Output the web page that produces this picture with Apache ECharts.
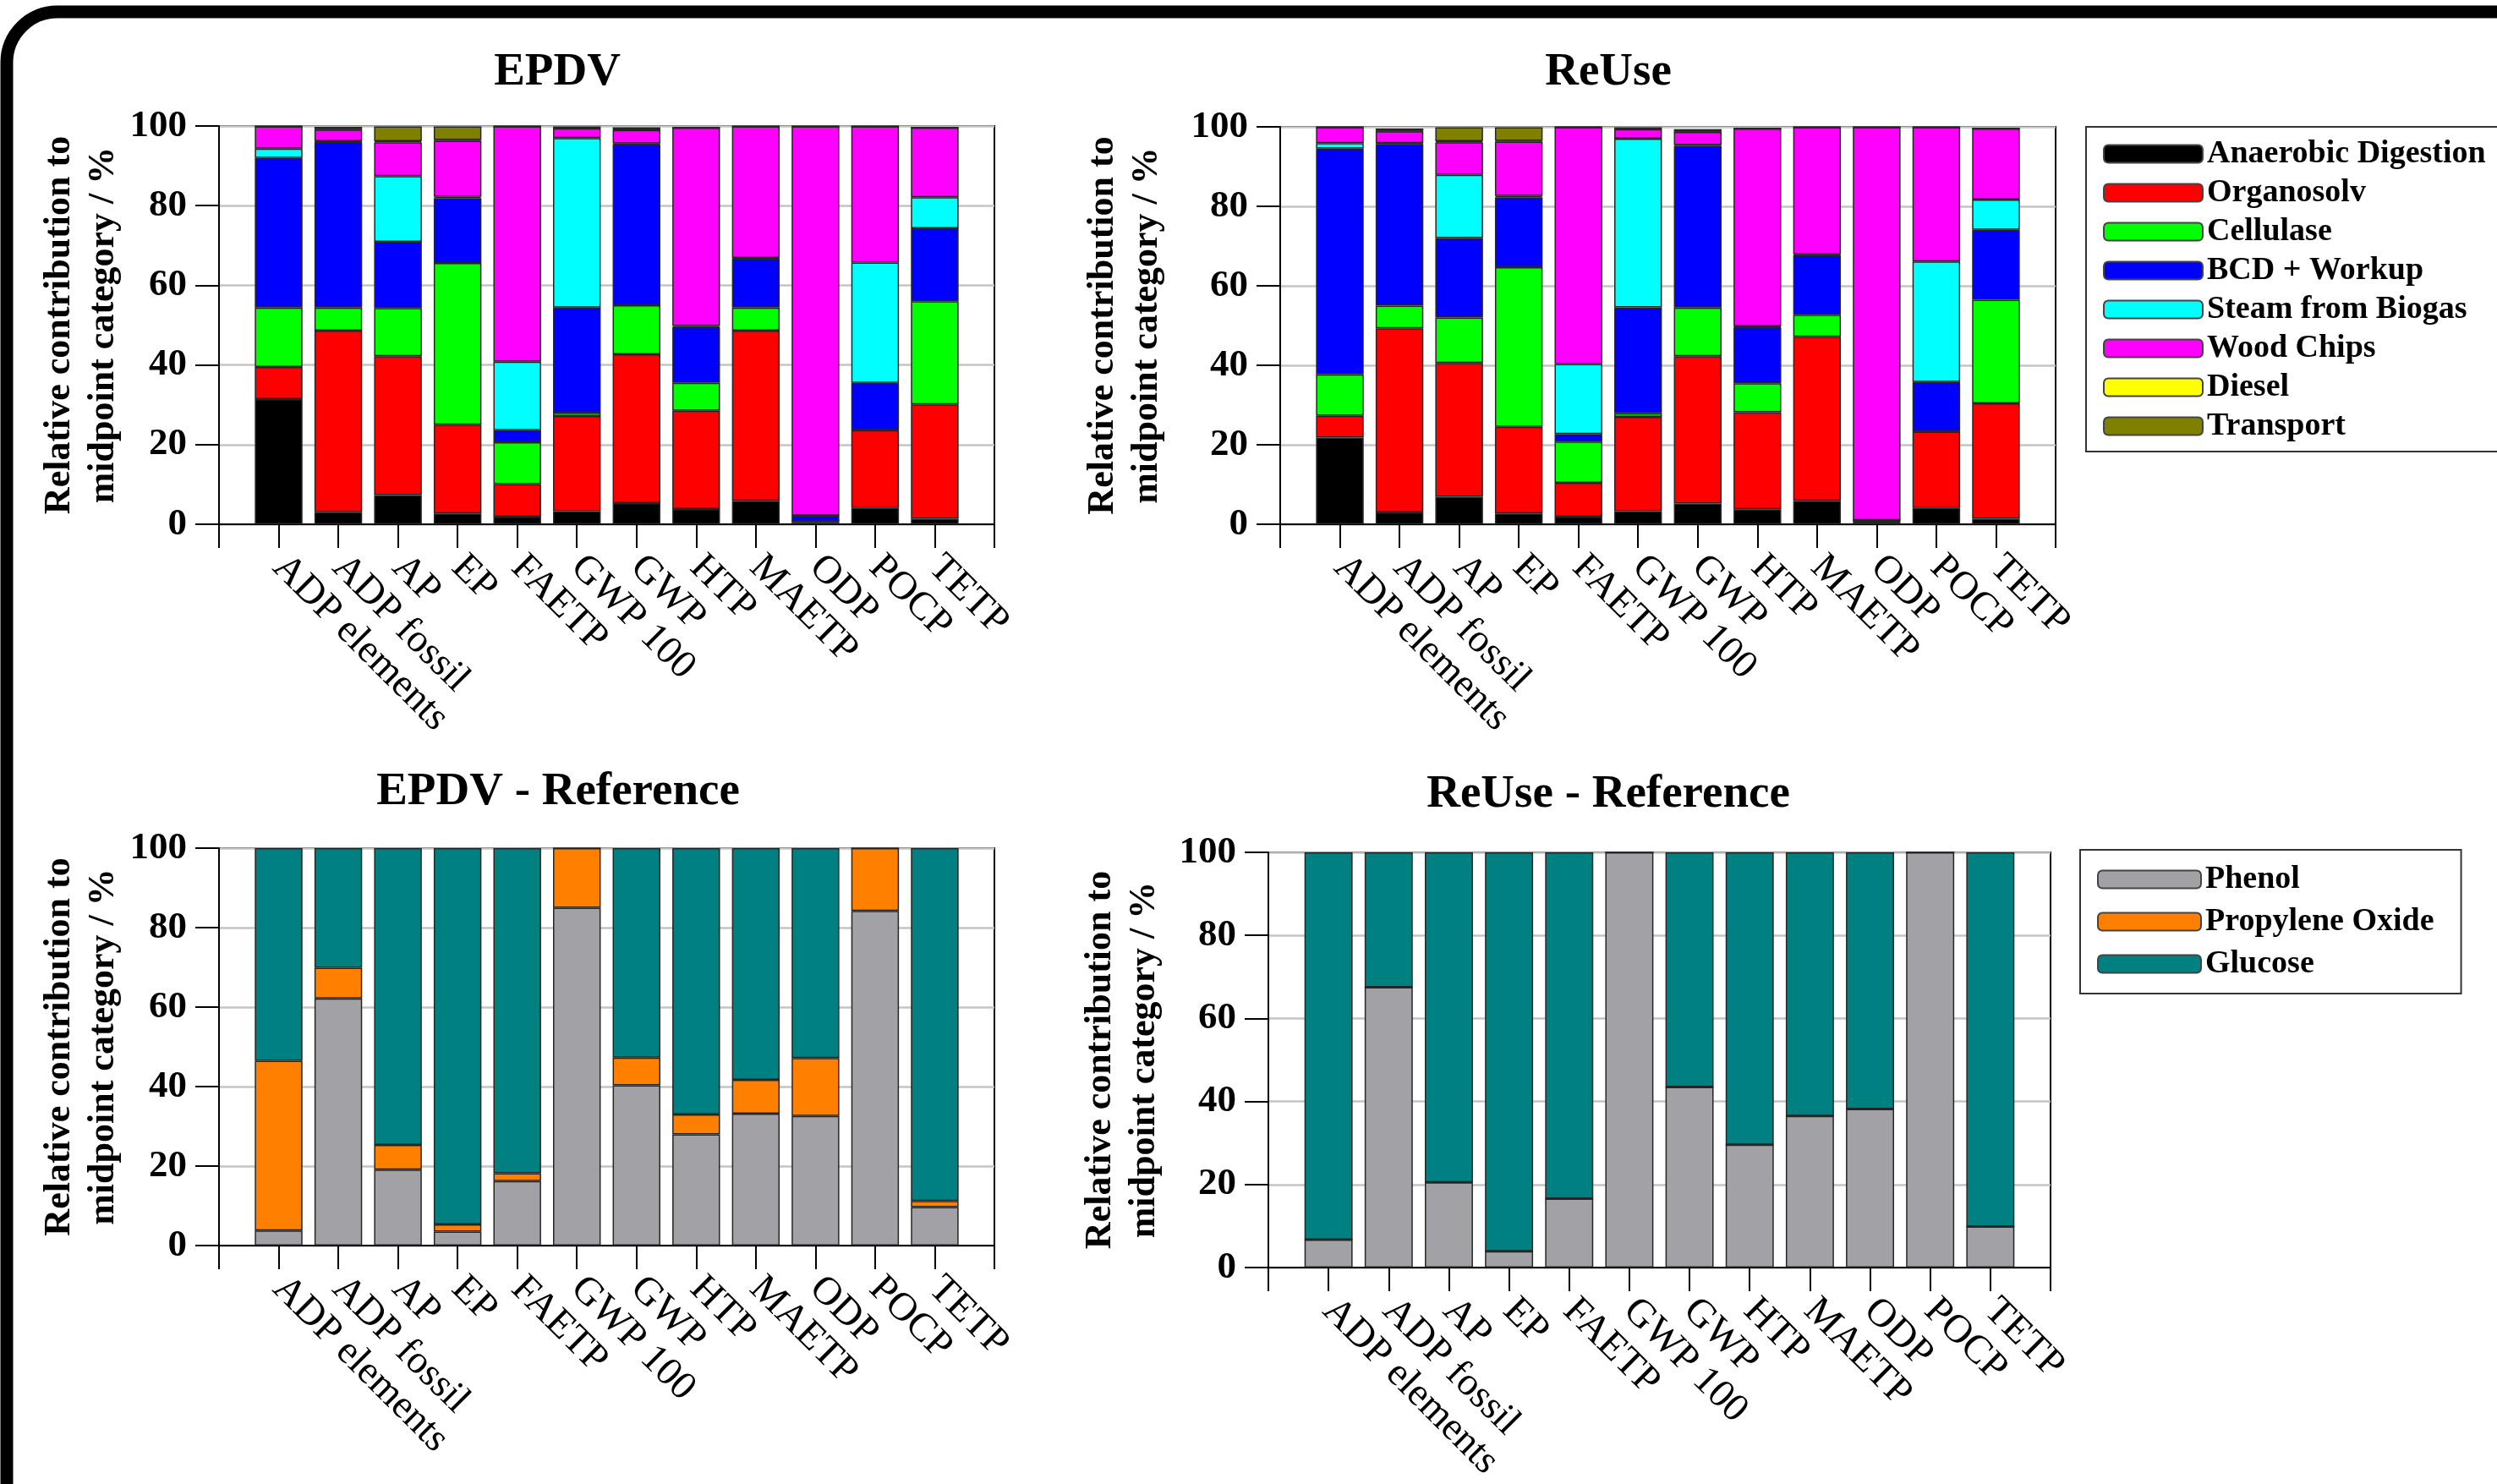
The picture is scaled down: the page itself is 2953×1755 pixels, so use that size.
<!DOCTYPE html>
<html><head><meta charset="utf-8">
<script src="https://cdn.jsdelivr.net/npm/echarts@6/dist/echarts.min.js"></script>
<style>html,body{margin:0;padding:0;background:#fff}#c{width:2953px;height:1755px}</style>
</head><body><div id="c"></div>
<script>
// ---------- data ----------
const categories = ['ADP elements','ADP fossil','AP','EP','FAETP','GWP 100','GWP','HTP','MAETP','ODP','POCP','TETP'];
const yTicks = [0, 20, 40, 60, 80, 100];

const processNames = ['Anaerobic Digestion','Organosolv','Cellulase','BCD + Workup','Steam from Biogas','Wood Chips','Diesel','Transport'];
const processColors = ['#000000','#ff0000','#00ff00','#0000ff','#00ffff','#ff00ff','#ffff00','#808000'];

// EPDV
const epdvAnaerobic = [31.4, 3.0, 7.3, 2.7, 1.9, 3.3, 5.3, 3.8, 5.9, 0.6, 4.1, 1.4];
const epdvOrganosolv = [8.1, 45.6, 34.9, 22.3, 8.2, 23.9, 37.4, 24.7, 42.7, 0.2, 19.5, 28.7];
const epdvCellulase = [14.9, 5.8, 12.1, 40.6, 10.5, 0.8, 12.3, 7.0, 5.8, 0, 0.1, 25.9];
const epdvBCD = [37.6, 41.6, 16.6, 16.3, 3.0, 26.4, 40.4, 14.0, 12.3, 1.3, 11.8, 18.3];
const epdvSteam = [2.3, 0.2, 16.5, 0.3, 17.2, 42.6, 0.2, 0.3, 0.2, 0.1, 30.2, 7.8];
const epdvWood = [5.6, 2.9, 8.5, 14.1, 59.1, 2.4, 3.4, 49.8, 33.0, 97.7, 34.2, 17.5];
const epdvDiesel = [0, 0.1, 0.3, 0.2, 0, 0.1, 0.1, 0, 0, 0, 0, 0];
const epdvTransport = [0.1, 0.6, 3.7, 3.4, 0.1, 0.4, 0.6, 0.1, 0.1, 0.1, 0.1, 0.1];

// ReUse
const reuseAnaerobic = [21.8, 3.0, 6.9, 2.7, 1.9, 3.3, 5.2, 3.8, 5.9, 0.4, 4.1, 1.4];
const reuseOrganosolv = [5.5, 46.3, 33.7, 21.8, 8.5, 23.7, 37.1, 24.4, 41.3, 0.3, 19.2, 29.0];
const reuseCellulase = [10.4, 5.7, 11.4, 40.2, 10.4, 0.9, 12.2, 7.3, 5.5, 0, 0.1, 26.1];
const reuseBCD = [56.8, 40.7, 20.0, 17.6, 1.9, 26.7, 40.7, 14.1, 15.0, 0.3, 12.4, 17.6];
const reuseSteam = [1.4, 0.2, 15.9, 0.3, 17.6, 42.4, 0.2, 0.2, 0.2, 0, 30.3, 7.6];
const reuseWood = [4.0, 3.0, 8.2, 13.7, 59.6, 2.4, 3.3, 49.8, 32.0, 98.9, 33.8, 17.9];
const reuseDiesel = [0, 0.1, 0.3, 0.2, 0, 0.1, 0.1, 0, 0, 0, 0, 0];
const reuseTransport = [0.1, 0.6, 3.5, 3.4, 0.1, 0.4, 0.6, 0.1, 0.1, 0.1, 0.1, 0.1];

const refNames = ['Phenol','Propylene Oxide','Glucose'];
const refColors = ['#a2a1a6','#ff8000','#008080'];

// EPDV - Reference
const epdvRefPhenol = [3.8, 62.2, 19.1, 3.5, 16.2, 85.0, 40.3, 28.0, 33.2, 32.6, 84.2, 9.7];
const epdvRefPropylene = [42.7, 7.7, 6.2, 1.8, 2.0, 15.0, 7.0, 5.0, 8.5, 14.6, 15.8, 1.5];
const epdvRefGlucose = [53.5, 30.1, 74.7, 94.7, 81.8, 0, 52.7, 67.0, 58.3, 52.8, 0, 88.8];

// ReUse - Reference
const reuseRefPhenol = [6.7, 67.5, 20.5, 3.9, 16.6, 100, 43.5, 29.6, 36.5, 38.2, 100, 9.9];
const reuseRefPropylene = [0, 0, 0, 0, 0, 0, 0, 0, 0, 0, 0, 0];
const reuseRefGlucose = [93.3, 32.5, 79.5, 96.1, 83.4, 0, 56.5, 70.4, 63.5, 61.8, 0, 90.1];

// ---------- chart ----------
const FONT = '"Liberation Serif", "Times New Roman", serif';
const chart = echarts.init(document.getElementById('c'), null, {renderer: 'canvas'});

const axisCats = [''].concat(categories, ['']);
const pad = arr => ['-'].concat(arr, ['-']);

const grids = [
  {left: 259, top: 149, width: 917, height: 471},
  {left: 1514, top: 150, width: 917, height: 470},
  {left: 259, top: 1003, width: 917, height: 470},
  {left: 1500, top: 1008, width: 925, height: 491}
];
const nameGaps = [110, 131, 110, 120];

const xAxes = grids.map((g, i) => ({
  gridIndex: i, type: 'category', data: axisCats, boundaryGap: false,
  axisLine: {show: true, onZero: false, lineStyle: {color: '#000', width: 2}},
  axisTick: {show: true, length: 28, interval: 0, lineStyle: {color: '#000', width: 2}},
  axisLabel: {interval: 0, rotate: -45, margin: 44, fontFamily: FONT, fontSize: 47, color: '#000'},
  splitLine: {show: false}
}));
const yAxes = grids.map((g, i) => ({
  gridIndex: i, type: 'value', min: yTicks[0], max: yTicks[yTicks.length - 1], interval: 20,
  axisLine: {show: true, lineStyle: {color: '#000', width: 2}},
  axisTick: {show: true, length: 28, lineStyle: {color: '#000', width: 2}},
  axisLabel: {margin: 38, fontFamily: FONT, fontWeight: 'bold', fontSize: 45, color: '#000'},
  splitLine: {show: true, lineStyle: {color: '#c4c4c4', width: 2.5}},
  name: 'Relative contribution to\nmidpoint category / %',
  nameLocation: 'middle', nameRotate: 90, nameGap: nameGaps[i],
  nameTextStyle: {fontFamily: FONT, fontWeight: 'bold', fontSize: 44, lineHeight: 52, color: '#000'}
}));

function bar(name, data, color, idx) {
  return {
    name: name, type: 'bar', stack: 's' + idx, xAxisIndex: idx, yAxisIndex: idx,
    data: pad(data), barWidth: '80%',
    itemStyle: {color: color, borderColor: '#262626', borderWidth: 1.5},
    emphasis: {disabled: true}
  };
}

const epdvSets = [epdvAnaerobic, epdvOrganosolv, epdvCellulase, epdvBCD, epdvSteam, epdvWood, epdvDiesel, epdvTransport];
const reuseSets = [reuseAnaerobic, reuseOrganosolv, reuseCellulase, reuseBCD, reuseSteam, reuseWood, reuseDiesel, reuseTransport];
const epdvRefSets = [epdvRefPhenol, epdvRefPropylene, epdvRefGlucose];
const reuseRefSets = [reuseRefPhenol, reuseRefPropylene, reuseRefGlucose];

const series = [];
epdvSets.forEach((d, k) => series.push(bar(processNames[k], d, processColors[k], 0)));
reuseSets.forEach((d, k) => series.push(bar(processNames[k], d, processColors[k], 1)));
epdvRefSets.forEach((d, k) => series.push(bar(refNames[k], d, refColors[k], 2)));
reuseRefSets.forEach((d, k) => series.push(bar(refNames[k], d, refColors[k], 3)));

const titleStyle = {fontFamily: FONT, fontWeight: 'bold', fontSize: 55, color: '#000'};
const legendText = {fontFamily: FONT, fontWeight: 'bold', fontSize: 38, color: '#000'};

chart.setOption({
  animation: false,
  backgroundColor: '#ffffff',
  title: [
    {text: 'EPDV', left: 659, top: 58, textAlign: 'center', padding: 0, textStyle: titleStyle},
    {text: 'ReUse', left: 1902, top: 58, textAlign: 'center', padding: 0, textStyle: titleStyle},
    {text: 'EPDV - Reference', left: 660, top: 909, textAlign: 'center', padding: 0, textStyle: titleStyle},
    {text: 'ReUse - Reference', left: 1902, top: 912, textAlign: 'center', padding: 0, textStyle: titleStyle}
  ],
  legend: [
    {data: processNames, orient: 'vertical', left: 2467, top: 150, itemWidth: 117, itemHeight: 21, itemGap: 8,
     padding: [13, 40, 11, 20], borderColor: '#333', borderWidth: 2, icon: 'roundRect', selectedMode: false,
     itemStyle: {borderColor: '#444', borderWidth: 2}, textStyle: legendText},
    {data: refNames, orient: 'vertical', left: 2460, top: 1005, itemWidth: 122, itemHeight: 21, itemGap: 12,
     padding: [16, 32, 16, 20], borderColor: '#333', borderWidth: 2, icon: 'roundRect', selectedMode: false,
     itemStyle: {borderColor: '#444', borderWidth: 2}, textStyle: legendText}
  ],
  grid: grids.map(g => Object.assign({show: true, borderColor: '#000', borderWidth: 2, backgroundColor: 'transparent'}, g)),
  xAxis: xAxes,
  yAxis: yAxes,
  series: series,
  graphic: [{
    type: 'rect', silent: true, z: -10,
    shape: {x: 8, y: 14, width: 3400, height: 2200, r: 60},
    style: {fill: 'none', stroke: '#000', lineWidth: 15}
  }]
});
</script>
</body></html>
